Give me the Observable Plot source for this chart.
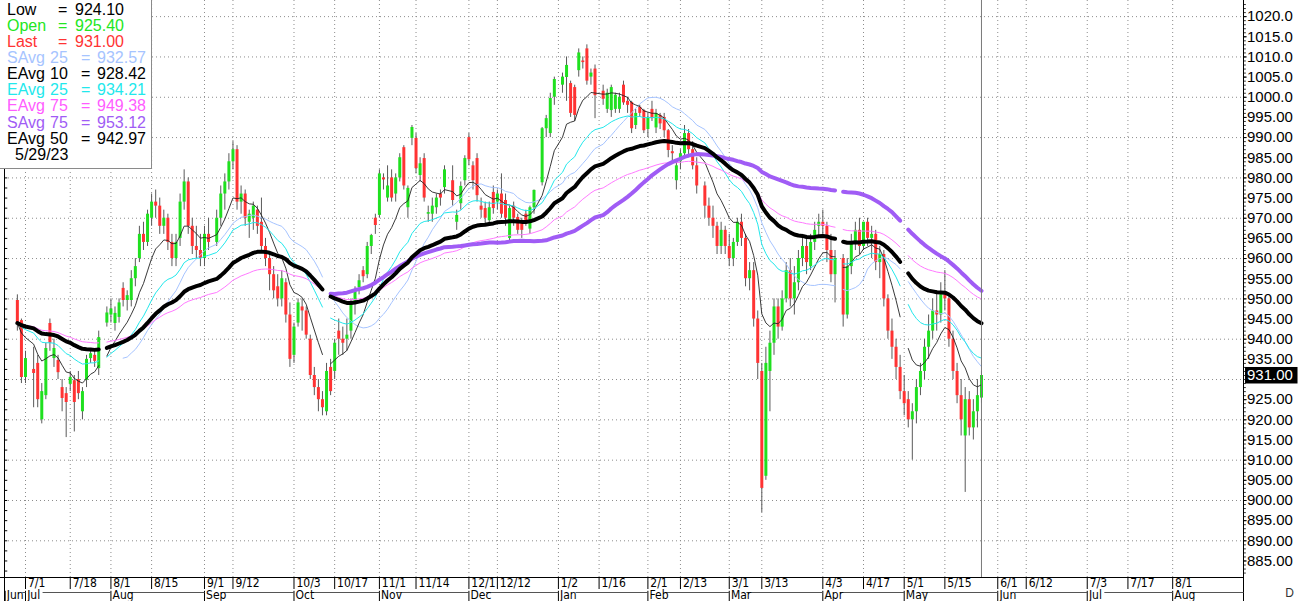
<!DOCTYPE html>
<html><head><meta charset="utf-8">
<script src="https://cdn.jsdelivr.net/npm/d3@7"></script>
<script src="https://cdn.jsdelivr.net/npm/@observablehq/plot@0.6"></script>
<style>
html,body{margin:0;padding:0;background:#fff;overflow:hidden}
#wrap{position:relative;width:1299px;height:601px}
#legend{position:absolute;left:0;top:0;width:151px;height:168px;background:#fff;border-right:1px solid #8a8a8a;border-bottom:1px solid #8a8a8a;font:16px "Liberation Sans",Arial,sans-serif;overflow:hidden}
#legend .row{position:absolute;left:0;width:151px;height:16px;line-height:16px;white-space:pre}
#legend .row span{position:absolute;top:0}
</style></head><body><div id="wrap"><div id="chart"></div><div id="legend"></div></div>
<script>
// ---- data: one entry per weekday starting Wed 2022-06-29 (null = no bar: holiday / missing day) ----
const startDate = "2022-06-29";
const open = [
949.6,944.6,930.5,
null,932.5,934,920,926,  943.9,935.2,934.7,928,926.5,  928.8,929.7,930,922,929.8,  935.2,936,932.7,null,944,
946,943.9,945.4,952.6,949.6,  949.6,955,960,966,964,  970,974,973,968,970,  964,960,965,974,979,  968,963,962,960,966,
null,964,970,976,979,  984,987,974,976,969,  970,972,969,963,960,  956,953,950,954,946,
936,944,948,947,940,  931,928,925,922,933,  932,942,940,940,942,  949,952.8,957,956,963,
970,970.7,980,975,980,  976,980,987.5,972.6,989.8,  989.8,980.6,984.8,971,971,  972.6,976,977.6,null,979.3,
969,973.6,979.3,990,983,  984.8,973,972.4,969.4,976.4,  974,976,974.4,965,973,  970.2,969,971,967.3,972.6,  null,978.8,992.2,991,1000,
null,1003,1004.9,1003.4,1002.4,  1006.6,1009,1012,1005,1007,  null,1001.5,997,996.7,997,  997,1003,999,998.7,993,
997.5,996.7,992,997,992.4,  995.5,995,991.7,986.5,979.3,  984,986,991,987,983,  null,978,973,970,968,
963,967,963,960,964,  969,965,955,957,945,  932,906,932,939,948,  943,950,957,950,954,  960,963,958,964,968,
969,968,962,956,null,  960,946,958,964,967,  963,969,965,966,959,  961,950,942,938,933,
927,925,920,922,928,  932,938,942,947,946,  951,950,940,932,926,  916,925,918,922,925.4];
const high = [
951,945,937,
null,938,936,929,939,  945,940,936,930,928,  932,931,932,928,936,  937.5,937,942,null,948,
950,948,950,954,952,  957,960,968,969,972,  976,977,975,972,971,  966,966,976,982,980,  970,968,966,968,970,
null,972,978,981,986,  989,988,978,977,972,  974,973,975,965,961,  958,956,957,955,949,
944,950,950,948,941,  933,930,927,934,935,  940,945,943,945,950,  953,956,958,964,966,
971,982,981,983,982,  981,986,988,978,993,  991,985,986,973,975,  976,977,983,null,983,
972,979,985.5,991,984,  986,975,974,974,978,  977,981,976,973,974,  971,970,972,973,977,  null,992.5,995.5,1001,1005,
null,1006,1010,1004,1003,  1012,1010,1013,1007,1008,  null,1003,1002,1003,1001,  1001,1004,1000,999,997,
998,997,996,999,997,  996,996,992,988,984,  987,993,992,989,985,  null,979,975,973,969,
969,968,966,965,970,  971,966,959,959,947,  934,938,942,950,950,  952,959,960,958,962,  966,965,966,969,971,
972,969,966,962,null,  961,960,966,969,970,  969,970,968,967,963,  962,951,945,940,936,
931,927,924,930,934,  940,946,950,952,954,  957,951,942,934,930,  928,927,925,930,932];
const low = [
942,929,929,
null,923,923,919,925,  937,933,930,922,915.6,  927,917,925,920,928,  934,933,931,null,943,
944,942,944,948,947,  948,953,959,962,963,  968,970,966,966,962,  958,958,963,972,966,  961,960,958,958,962,
null,963,968,972,977,  982,972,971,968,965,  967,966,962,958,952,  950,948,948,944,933,
934,943,942,940,930,  926,922,921,921,926,  930,936,936,937,940,  946,951,954,955,961,
966,970,977,974,974,  974,979,977,970,988,  981,979,974,969,969,  971,973,976,null,973,
967,972,978,983,977,  974,970,968,968,971,  972,970,968,964,968,  966,965,968,966,971,  null,978,990,990,998,
null,1001,999,995,994,  1005,1007,1003,1003,994.7,  null,998,996,995,996,  996,998,996,991,992,
995,991,990,994,991,  992,990,985,984,977,  982,985,985,982,976,  null,970,968,965,961,
961,961,958,958,963,  963,953,952,943,930,  897,905,922,936,940,  942,949,948,946,952,  958,956,957,962,965,
965,959,954,949,null,  943,945,956,962,961,  962,963,960,957,955,  948,940,935,930,925,
921,918,910,919,926,  930,935,940,942,944,  947,938,930,924,916,  902,916,915,918,924.1];
const close = [
944,930.5,935.2,
null,931.5,925,927,937.7,  939,937.7,931.7,925.3,924.3,  930.5,924.3,926.5,927,935,  936.4,934.5,940.4,null,946.5,
947.5,946.4,949,949.6,950.8,  955,958,966,964,971,  974,973,968,970,964,  960,964,974,979,968,  963,962,960,966,964,
null,970,976,979,984,  987,974,976,970,971,  973,968,963,960,956,  952,950,955,946,935,
943,949,947,941,931,  928,925,923,932,927,  939,940,939,941,949,  952,954.5,955.5,963,965.7,
968.2,981,979.5,978,975,  980,985,978,977.4,992.5,  982.3,983.5,975,971.4,973,  975,975,982,null,974.4,
970.7,977.9,984.8,984.5,979.3,  975.6,972,970,972.6,972.4,  976,971,970,972.4,970,  967,967,969,972.6,976.9,  null,992.2,994.7,999.7,1004.4,
null,1005,1007.9,996,995.5,  1011,1008.6,1004,1006,1000.4,  null,999.5,1001,1002.4,1000.5,  1000,998.6,998,992.2,996,
996,991.7,995,994.7,996,  993.4,991.7,986.8,986,983,  986,991,987,983,978,  null,973,970,968,963,
967,963,960,964,969,  965,955,957,945,934,  903,934,939,948,943,  950,957,950,954,960,  963,959,964,967,969,
968,962,956,960,null,  946,958,964,967,963,  969,965,966,959,961,  950,942,938,933,927,
924,920,922,928,932,  938,942,947,946,951,  950,940,932,926,920,  925,918,922,926,931];
// days at which the average lines show a small break in the picture
const lineBreakDates = ["2022-07-28","2022-10-13","2023-04-07","2023-05-01"];

// axis text
const tickDates  = ["2022-07-01","2022-07-18","2022-08-01","2022-08-15","2022-09-01","2022-09-12","2022-10-03","2022-10-17","2022-11-01","2022-11-14","2022-12-01","2022-12-12","2023-01-02","2023-01-16","2023-02-01","2023-02-13","2023-03-01","2023-03-13","2023-04-03","2023-04-17","2023-05-01","2023-05-15","2023-06-01","2023-06-12","2023-07-03","2023-07-17","2023-08-01"];
const tickLabels = ["7/1","7/18","8/1","8/15","9/1","9/12","10/3","10/17","11/1","11/14","12/1","12/12","1/2","1/16","2/1","2/13","3/1","3/13","4/3","4/17","5/1","5/15","6/1","6/12","7/3","7/17","8/1"];
const monthDates  = ["2022-06-24","2022-07-01","2022-08-01","2022-09-01","2022-10-03","2022-11-01","2022-12-01","2023-01-02","2023-02-01","2023-03-01","2023-04-03","2023-05-01","2023-06-01","2023-07-03","2023-08-01"];
const monthLabels = ["Jun","Jul","Aug","Sep","Oct","Nov","Dec","Jan","Feb","Mar","Apr","May","Jun","Jul","Aug"];
const priceTicks = [885,890,895,900,905,910,915,920,925,935,940,945,950,955,960,965,970,975,980,985,990,995,1000,1005,1010,1015,1020];
const lastPrice = 931.00;
const cursorDate = "2023-05-26";

// legend text
const legendNames  = ["Low","Open","Last","SAvg","EAvg","EAvg","EAvg","SAvg","EAvg"];
const legendPeriods= ["","","","25","10","25","75","75","50"];
const legendValues = ["924.10","925.40","931.00","932.57","928.42","934.21","949.38","953.12","942.97"];
const legendColors = ["#000","#22e622","#ff3333","#a6c4ff","#000","#22e8ec","#ff5cff","#a05cf5","#000"];
const legendDate = "5/29/23";

// ---- helpers ----
const DAY = 86400000, base = Date.UTC(2022,6,1); // Fri 2022-07-01 = weekday index 0
function widx(s){
  const t = Date.parse(s+"T00:00:00Z");
  const days = Math.round((t-base)/DAY);
  const weeks = Math.floor(days/7); const rem = days - weeks*7;
  let n = weeks*5, dow = 5;
  for(let k=0;k<rem;k++){ dow=(dow+1)%7; if(dow!==0 && dow!==6) n++; }
  return n;
}
const i0 = widx(startDate);
const bars = [];
close.forEach((c,i)=>{ if(c!=null) bars.push({x:i0+i, o:open[i], h:high[i], l:low[i], c}); });

function ema(n){ const a=2/(n+1); let e=null; return bars.map(b=>{ e = e==null? b.c : e + a*(b.c-e); return {x:b.x, y:e}; }); }
function sma(n){ const out=[]; for(let i=n-1;i<bars.length;i++){ let s=0; for(let j=i-n+1;j<=i;j++) s+=bars[j].c; out.push({x:bars[i].x, y:s/n}); } return out; }
const breakSet = new Set(lineBreakDates.map(widx));
function gaps(series){
  const out = [];
  series.forEach((p,k)=>{
    if(k>0){ for(let x=series[k-1].x+1; x<p.x; x++) if(breakSet.has(x)) out.push({x, y:NaN}); }
    out.push(breakSet.has(p.x) ? {x:p.x, y:NaN} : p);
  });
  return out;
}

const pxPerIdx = 4.068, x0px = 25, leftPx = 4, rightPx = 1243;
const xMin = (leftPx-x0px)/pxPerIdx, xMax = (rightPx-x0px)/pxPerIdx;
const yMin = 880.9, yMax = 1024, ppu = 577/(yMax-yMin);
const yRow1 = yMin - 6/ppu, yRow1b = yMin - 12/ppu, yLine2 = yMin - 15/ppu, yRow2 = yMin - 20/ppu, yBot = yMin - 24/ppu;

const ticks = tickDates.map((d,i)=>({x:widx(d), label:tickLabels[i]}));
const months = monthDates.map((d,i)=>({x:Math.max(widx(d),xMin), label:monthLabels[i]}));
const monthLines = months.map((m,i)=>({x1:m.x+4.2, x2: i<months.length-1? months[i+1].x : xMax})).filter(d=>d.x2>d.x1);
const minor = d3.range(882,1024,1);
const leftTicks = d3.range(882.5,1024,2.5);
const labelsY = priceTicks.map(v=>({y:v, t: v>=1000? v.toFixed(1) : v.toFixed(2)}));
const narrow = "'Liberation Sans Narrow','Arial Narrow','DejaVu Sans Condensed',sans-serif";

const up = bars.filter(b=>b.c>=b.o), down = bars.filter(b=>b.c<b.o);

const chart = Plot.plot({
  width:1299, height:601,
  marginLeft:leftPx, marginRight:1299-rightPx, marginTop:0, marginBottom:24,
  style:{background:"#fff", overflow:"visible", fontFamily:"'Liberation Sans',Arial,sans-serif"},
  x:{type:"linear", domain:[xMin,xMax], axis:null},
  y:{type:"linear", domain:[yMin,yMax], axis:null},
  marks:[
    Plot.ruleY(d3.range(890,1021,10), {stroke:"#8c8c8c", strokeDasharray:"1,3"}),
    Plot.ruleX(ticks, {x:"x", y1:yMin, y2:yMax, stroke:"#8c8c8c", strokeDasharray:"1,3"}),
    // candles
    Plot.ruleX(bars, {x:"x", y1:"l", y2:"h", stroke:"#5a5a5a", strokeWidth:1}),
    Plot.ruleX(up,   {x:"x", y1:"o", y2:d=>Math.max(d.c, d.o+0.25), stroke:"#1fe01f", strokeWidth:3}),
    Plot.ruleX(down, {x:"x", y1:"o", y2:"c", stroke:"#ff3333", strokeWidth:3}),
    // moving averages
    Plot.line(gaps(sma(25)), {x:"x", y:"y", stroke:"#a6c4ff", strokeWidth:1}),
    Plot.line(gaps(ema(10)), {x:"x", y:"y", stroke:"#222", strokeWidth:0.9}),
    Plot.line(gaps(ema(25)), {x:"x", y:"y", stroke:"#22e8ec", strokeWidth:1}),
    Plot.line(gaps(ema(75)), {x:"x", y:"y", stroke:"#ff7aff", strokeWidth:1}),
    Plot.line(gaps(sma(75)), {x:"x", y:"y", stroke:"#a05cf5", strokeWidth:4}),
    Plot.line(gaps(ema(50)), {x:"x", y:"y", stroke:"#000", strokeWidth:4}),
    // cursor
    Plot.ruleX([widx(cursorDate)], {y1:yMin, y2:yMax, stroke:"#7a7a7a", strokeWidth:1}),
    // frame lines
    Plot.ruleY([yMin], {x1:xMin-2, x2:xMax, stroke:"#000"}),
    Plot.ruleX([xMin], {y1:yBot, y2:yMax, stroke:"#000"}),
    Plot.ruleX([xMax], {y1:yBot, y2:yMax, stroke:"#000"}),
    Plot.ruleY(leftTicks, {x1:xMin, x2:xMin+0.8, stroke:"#000"}),
    // right price axis
    Plot.ruleY(minor, {x1:xMax, x2:xMax+0.7, stroke:"#000", strokeWidth:0.8}),
    Plot.ruleY(priceTicks, {x1:xMax, x2:xMax+0.9, stroke:"#000"}),
    Plot.text(labelsY, {x:xMax+0.85, y:"y", text:"t", textAnchor:"start", fontSize:15, fill:"#000"}),
    Plot.rect([lastPrice], {x1:xMax+0.5, x2:xMax+13.4, y1:d=>d-8.5/ppu, y2:d=>d+8/ppu, fill:"#000"}),
    Plot.text([lastPrice], {x:xMax+0.85, y:d=>d, text:d=>d.toFixed(2), textAnchor:"start", fontSize:15, fill:"#fff"}),
    // bottom date axis
    Plot.ruleX(ticks, {x:"x", y1:yRow1b, y2:yMin, stroke:"#000"}),
    Plot.text(ticks, {x:d=>d.x+0.6, y:yRow1, text:"label", textAnchor:"start", fontSize:12, fontFamily:narrow, fill:"#000"}),
    Plot.ruleX(months, {x:"x", y1:yBot, y2:yLine2+1.2/ppu, stroke:"#000"}),
    Plot.link(monthLines, {x1:"x1", x2:"x2", y1:yLine2, y2:yLine2, stroke:"#555"}),
    Plot.text(months, {x:d=>d.x+0.4, y:yRow2+2/ppu, text:"label", textAnchor:"start", fontSize:12, fontFamily:narrow, fill:"#000"}),
    Plot.text(["D"], {x:xMax+11.3, y:yRow2+4/ppu, text:d=>d, fontSize:12, fill:"#333"})
  ]
});
document.getElementById("chart").appendChild(chart);

// legend box
const lg = document.getElementById("legend");
const tops = [1.5,17.5,34,50,66,82,98,115,131];
legendNames.forEach((n,i)=>{
  const row = document.createElement("div"); row.className="row"; row.style.top=tops[i]+"px"; row.style.color=legendColors[i];
  const hasP = legendPeriods[i] !== "";
  row.innerHTML = `<span style="left:7px">${n}</span>` + (hasP? `<span style="left:50px">${legendPeriods[i]}</span>`:"") +
    `<span style="left:${hasP?81:58}px">=</span><span style="left:${hasP?97:75}px">${legendValues[i]}</span>`;
  lg.appendChild(row);
});
const dr = document.createElement("div"); dr.className="row"; dr.style.top="147px"; dr.innerHTML=`<span style="left:15px">${legendDate}</span>`; lg.appendChild(dr);
</script></body></html>
